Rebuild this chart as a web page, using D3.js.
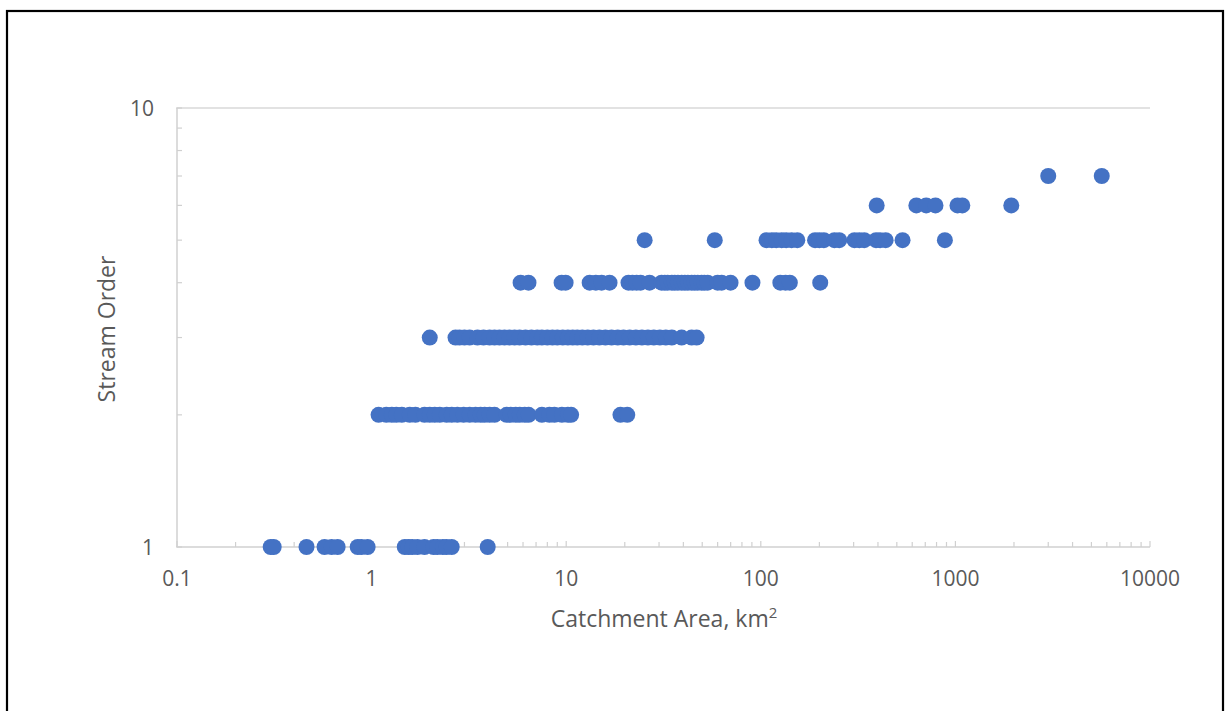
<!DOCTYPE html>
<html><head><meta charset="utf-8">
<script src="https://cdn.jsdelivr.net/npm/d3@7"></script>
<style>body{margin:0;background:#fff;} svg{display:block;font-family:"Open Sans",sans-serif;}</style>
</head><body>
<script>
// Catchment area (km²) for each stream order
const order1 = [0.303,0.314,0.463,0.573,0.623,0.669,0.848,0.888,0.954,1.48,1.55,1.62,1.72,1.87,2.08,2.18,2.32,2.43,2.58,3.95];
const order2 = [1.086,1.19,1.27,1.34,1.43,1.57,1.68,1.87,1.99,2.11,2.24,2.43,2.58,2.76,2.97,3.19,3.42,3.63,3.81,4.04,4.28,4.94,5.18,5.50,5.77,6.12,6.41,7.5,8.2,8.7,9.5,10.2,10.6,19.0,20.6];
const order3 = [1.99,2.70,2.83,3.00,3.19,3.50,3.76,4.04,4.28,4.54,4.82,5.11,5.43,5.76,6.18,6.63,7.1,7.5,8.0,8.5,9.0,9.6,10.2,10.8,11.4,12.1,12.9,13.8,14.8,15.9,17.1,18.4,19.7,21.2,22.8,24.5,26.3,28.2,30.3,32.5,34.9,39.2,44.1,46.8];
const order4 = [5.83,6.40,9.47,9.93,13.2,14.2,15.2,16.7,20.9,21.9,23.0,24.1,26.8,30.9,32.1,33.2,34.9,36.1,37.5,39.2,40.7,42.2,44.1,45.7,47.4,49.6,51.3,53.3,60.0,62.9,69.9,90.6,126,134,141,202];
const order5 = [25.3,58.0,107,114,120,128,135,144,154,190,200,211,239,253,303,321,340,391,410,438,535,883];
const order6 = [394,630,708,790,1025,1085,1937];
const order7 = [3000,5650];
const orders = [1,2,3,4,5,6,7];
const seriesByOrder = [order1,order2,order3,order4,order5,order6,order7];
const xTicks = [0.1,1,10,100,1000,10000];
const xTickLabels = ["0.1","1","10","100","1000","10000"];
const yTicks = [1,10];
const yTickLabels = ["1","10"];

(function(){
const W = 1225, H = 711;
const svg = d3.select("body").append("svg").attr("width", W).attr("height", H);

// frame
svg.append("rect").attr("x",7).attr("y",11).attr("width",1216).attr("height",720)
  .attr("fill","none").attr("stroke","#000").attr("stroke-width",2.2);

const pl = 177, pr = 1150, pt = 108, pb = 547;
const x = d3.scaleLog().domain([0.1,10000]).range([pl,pr]);
const y = d3.scaleLog().domain([1,10]).range([pb,pt]);

const axisColor = "#d0d0d0";
const textColor = "#595959";

// gridline at 10
svg.append("line").attr("x1",pl).attr("x2",pr).attr("y1",y(10)).attr("y2",y(10))
  .attr("stroke","#d9d9d9").attr("stroke-width",1.3);

// minor ticks
const xMinor = [];
for (let e=-1;e<4;e++) for (let k=2;k<=9;k++) xMinor.push(k*Math.pow(10,e));
const yMinor = [];
for (let k=2;k<=9;k++) yMinor.push(k);

const xAxis = svg.append("g");
xAxis.append("line").attr("x1",pl).attr("x2",pr).attr("y1",pb).attr("y2",pb)
  .attr("stroke",axisColor).attr("stroke-width",1.5);
xAxis.selectAll("line.minor").data(xMinor).join("line").attr("class","minor")
  .attr("x1",d=>x(d)).attr("x2",d=>x(d)).attr("y1",pb).attr("y2",pb-5)
  .attr("stroke",axisColor).attr("stroke-width",1.2);
xAxis.selectAll("line.major").data(xTicks).join("line").attr("class","major")
  .attr("x1",d=>x(d)).attr("x2",d=>x(d)).attr("y1",pb).attr("y2",pb-6)
  .attr("stroke",axisColor).attr("stroke-width",1.2);
xAxis.selectAll("text").data(xTicks).join("text")
  .attr("x",d=>x(d)).attr("y",586).attr("text-anchor","middle")
  .attr("fill",textColor).attr("font-size",21)
  .text((d,i)=>xTickLabels[i]);

const yAxis = svg.append("g");
yAxis.append("line").attr("x1",pl).attr("x2",pl).attr("y1",pt).attr("y2",pb)
  .attr("stroke",axisColor).attr("stroke-width",1.5);
yAxis.selectAll("line.minor").data(yMinor).join("line").attr("class","minor")
  .attr("x1",pl).attr("x2",pl+5).attr("y1",d=>y(d)).attr("y2",d=>y(d))
  .attr("stroke",axisColor).attr("stroke-width",1.2);
yAxis.selectAll("line.major").data(yTicks).join("line").attr("class","major")
  .attr("x1",pl-1).attr("x2",pl+5).attr("y1",d=>y(d)).attr("y2",d=>y(d))
  .attr("stroke",axisColor).attr("stroke-width",1.2);
yAxis.selectAll("text").data(yTicks).join("text")
  .attr("x",154).attr("y",d=>y(d)+7.5).attr("text-anchor","end")
  .attr("fill",textColor).attr("font-size",21)
  .text((d,i)=>yTickLabels[i]);

// axis titles
const xt = svg.append("text").attr("x",664).attr("y",627).attr("text-anchor","middle")
  .attr("fill",textColor).attr("font-size",23);
xt.append("tspan").text("Catchment Area, km");
xt.append("tspan").attr("dy",-9).attr("font-size",15).text("2");

svg.append("text").attr("transform","translate(115,329) rotate(-90)")
  .attr("text-anchor","middle").attr("fill",textColor).attr("font-size",23)
  .text("Stream Order");

// points
const pts = [];
seriesByOrder.forEach((arr,i)=>arr.forEach(v=>pts.push({area:v, order:orders[i]})));
svg.append("g").selectAll("circle").data(pts).join("circle")
  .attr("cx",d=>x(d.area)).attr("cy",d=>y(d.order)).attr("r",8)
  .attr("fill","#4472C4");
})();
</script>
</body></html>
